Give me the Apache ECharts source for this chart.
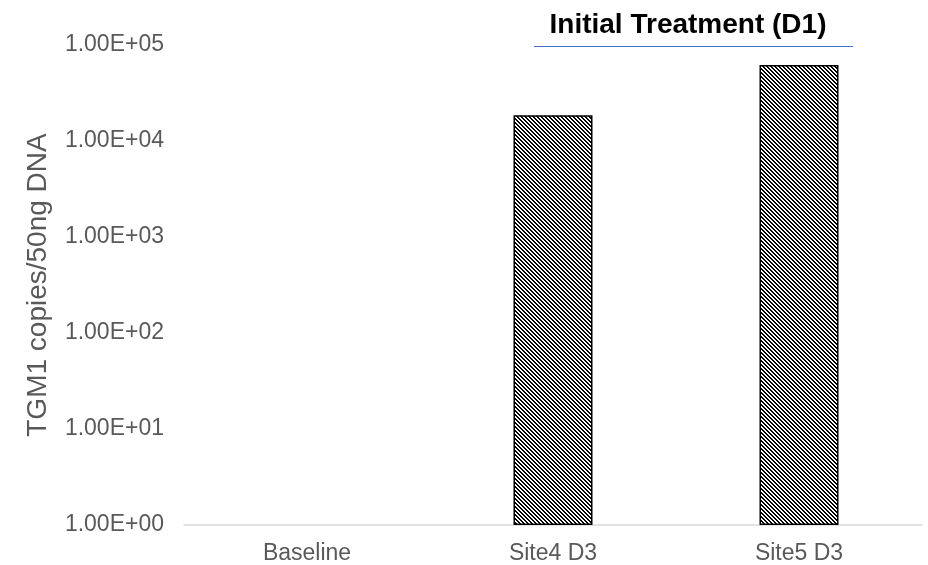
<!DOCTYPE html>
<html>
<head>
<meta charset="utf-8">
<script src="https://cdn.jsdelivr.net/npm/echarts@6/dist/echarts.min.js"></script>
<style>html,body{margin:0;padding:0;background:#fff}#c{width:928px;height:565px}</style>
</head>
<body>
<div id="c"></div>
<script>
const categories = ['Baseline', 'Site4 D3', 'Site5 D3'];
const copies = [null, 18500, 62000];
const yMin = 1, yMax = 100000;

function sci(v) {
  const e = Math.round(Math.log10(v));
  const m = v / Math.pow(10, e);
  const s = e < 0 ? '-' : '+';
  const ae = Math.abs(e);
  return m.toFixed(2) + 'E' + s + (ae < 10 ? '0' : '') + ae;
}

const tile = document.createElement('canvas');
tile.width = 4; tile.height = 4;
const tc = tile.getContext('2d');
tc.fillStyle = '#fff'; tc.fillRect(0, 0, 4, 4);
tc.fillStyle = '#000';
for (let x = 0; x < 4; x++) for (let y = 0; y < 4; y++) {
  const d = ((x - y) % 4 + 4) % 4;
  if (d === 0 || d === 1) tc.fillRect(x, y, 1, 1);
}

const chart = echarts.init(document.getElementById('c'), null, {renderer: 'canvas'});
chart.setOption({
  animation: false,
  backgroundColor: '#fff',
  title: {
    text: 'Initial Treatment (D1)',
    left: 683, top: 6, textAlign: 'center',
    textStyle: {fontFamily: 'Liberation Sans, Arial', fontWeight: 'bold', fontSize: 28, color: '#000'}
  },
  graphic: [{
    type: 'line', shape: {x1: 534, y1: 46.5, x2: 853, y2: 46.5},
    style: {stroke: '#4472C4', lineWidth: 1.2}
  }],
  grid: {left: 184, right: 6, top: 45, bottom: 40, containLabel: false},
  xAxis: {
    type: 'category', data: categories,
    axisLine: {lineStyle: {color: '#d9d9d9', width: 1.5}},
    axisTick: {show: false},
    axisLabel: {color: '#595959', fontSize: 23, fontFamily: 'Liberation Sans, Arial', margin: 17}
  },
  yAxis: {
    type: 'log', logBase: 10, min: yMin, max: yMax,
    name: 'TGM1 copies/50ng DNA', nameLocation: 'middle', nameGap: 132, nameRotate: 90,
    nameTextStyle: {color: '#595959', fontSize: 28, fontFamily: 'Liberation Sans, Arial'},
    axisLine: {show: false}, axisTick: {show: false}, splitLine: {show: false},
    axisLabel: {color: '#595959', fontSize: 23, fontFamily: 'Liberation Sans, Arial', margin: 20, formatter: sci}
  },
  series: [{
    type: 'bar', data: copies, barWidth: 79,
    itemStyle: {color: {image: tile, repeat: 'repeat'}, borderColor: '#000', borderWidth: 1.5}
  }]
});
</script>
</body>
</html>
